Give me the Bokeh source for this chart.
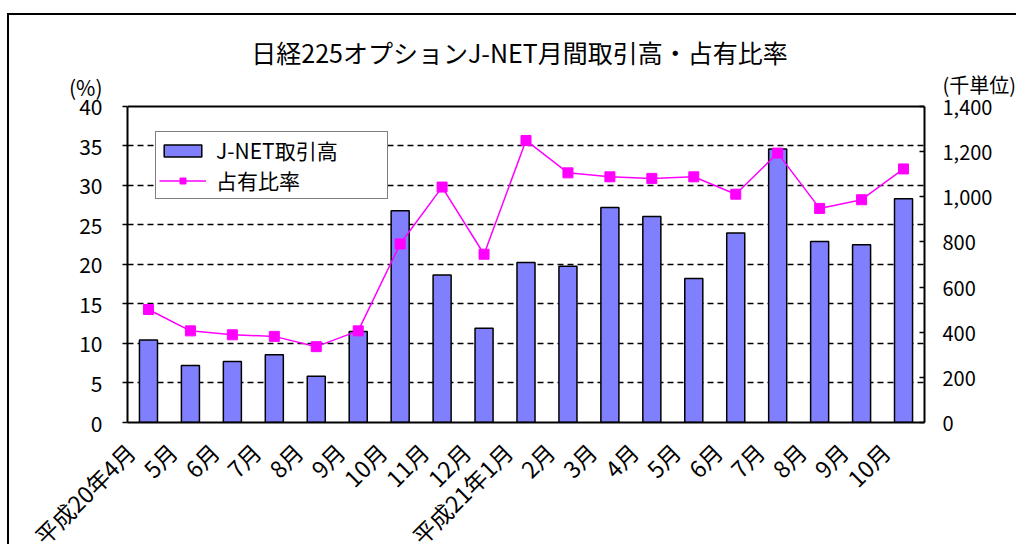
import math
from bokeh.plotting import figure
from bokeh.models import (Range1d, LinearAxis, FixedTicker, NumeralTickFormatter,
                          Legend, LegendItem, Label, ColumnDataSource, Span)
from bokeh.embed import file_html
from bokeh.resources import INLINE

months = ["平成20年4月", "5月", "6月", "7月", "8月", "9月", "10月", "11月", "12月",
          "平成21年1月", "2月", "3月", "4月", "5月", "6月", "7月", "8月", "9月", "10月"]
volume = [365, 252, 270, 300, 205, 403, 938, 654, 418, 709, 692, 952, 913, 638, 840, 1212, 802, 787, 991]
share = [14.3, 11.6, 11.1, 10.9, 9.6, 11.6, 22.6, 29.8, 21.3, 35.7, 31.6, 31.1, 30.9, 31.1, 28.9, 34.1, 27.1, 28.2, 32.1]
left_ticks = [0, 5, 10, 15, 20, 25, 30, 35, 40]
right_ticks = [0, 200, 400, 600, 800, 1000, 1200, 1400]
title_text = "日経225オプションJ-NET月間取引高・占有比率"
left_unit = "(%)"
right_unit = "(千単位)"

FONT = "Noto Sans CJK JP"
Y_TOP = 49.62          # frame extends above the plot area to hold the title
R_SCALE = 35.0         # right axis units per left axis unit
L_UNIT_POS = 42.53     # where the unit captions sit
R_UNIT_POS = 1497
LABEL_SHIFT = 0.43     # rotated month labels end left of the bar centre

xs = list(range(len(months)))
src = ColumnDataSource(dict(x=xs, vol=volume, share=share))

p = figure(frame_width=797, frame_height=392, x_range=Range1d(-0.5, len(months) - 0.5),
           y_range=Range1d(0, Y_TOP), output_backend="svg", toolbar_location=None,
           min_border_left=118, min_border_right=88, min_border_top=15, min_border_bottom=160)
p.styles = {"border-top": "2px solid #000", "border-left": "2px solid #000",
            "margin-left": "7px", "margin-top": "13px",
            "height": "531px", "overflow": "hidden"}
p.extra_y_ranges = {"vol": Range1d(0, Y_TOP * R_SCALE)}

p.outline_line_color = None
p.xgrid.visible = False
p.ygrid.grid_line_color = "black"
p.ygrid.grid_line_dash = "6 4"
p.ygrid.grid_line_width = 1.5
p.ygrid.ticker = FixedTicker(ticks=left_ticks[:-1])
p.add_layout(Span(location=left_ticks[-1], dimension="width", line_color="black", line_width=2))

bars = p.vbar(x="x", top="vol", width=0.43, source=src, y_range_name="vol",
              fill_color="#8080FF", line_color="black", line_width=1.5)
ln = p.line(x="x", y="share", source=src, line_color="#FF00FF", line_width=1.5)
sc = p.scatter(x="x", y="share", source=src, marker="square", size=10,
               fill_color="#FF00FF", line_color="#FF00FF")

# left axis: inner (spine + ticks) and outer (labels)
ya = p.yaxis[0]
ya.ticker = FixedTicker(ticks=left_ticks)
ya.bounds = (0, left_ticks[-1])
ya.axis_line_width = 2
ya.major_tick_in = 0
ya.major_tick_out = 5
ya.major_tick_line_width = 1.5
ya.minor_tick_line_color = None
ya.major_label_overrides = {t: "" for t in left_ticks}
ya.major_label_standoff = 0

yl = LinearAxis(ticker=FixedTicker(ticks=left_ticks + [L_UNIT_POS]),
                major_label_overrides={L_UNIT_POS: left_unit})
yl.axis_line_color = None
yl.major_tick_line_color = None
yl.major_tick_in = 0
yl.major_tick_out = 0
yl.minor_tick_line_color = None
yl.major_label_standoff = 20
yl.major_label_text_font = FONT
yl.major_label_text_font_size = "21px"
yl.major_label_text_color = "black"
p.add_layout(yl, "left")

# right axis: inner (spine + ticks) and outer (labels)
ri = LinearAxis(y_range_name="vol", ticker=FixedTicker(ticks=right_ticks),
                bounds=(0, right_ticks[-1]))
ri.axis_line_width = 2
ri.major_tick_in = 5
ri.major_tick_out = 0
ri.major_tick_line_width = 1.5
ri.minor_tick_line_color = None
ri.major_label_overrides = {t: "" for t in right_ticks}
ri.major_label_standoff = 0
p.add_layout(ri, "right")

ro = LinearAxis(y_range_name="vol", ticker=FixedTicker(ticks=right_ticks + [R_UNIT_POS]),
                formatter=NumeralTickFormatter(format="0,0"),
                major_label_overrides={R_UNIT_POS: right_unit})
ro.axis_line_color = None
ro.major_tick_line_color = None
ro.major_tick_in = 0
ro.major_tick_out = 0
ro.minor_tick_line_color = None
ro.major_label_standoff = 18
ro.major_label_text_font = FONT
ro.major_label_text_font_size = "20px"
ro.major_label_text_color = "black"
p.add_layout(ro, "right")

# x axis
label_ticks = [round(i - LABEL_SHIFT, 2) for i in xs]
xa = p.xaxis[0]
xa.ticker = FixedTicker(ticks=label_ticks)
xa.major_label_overrides = {t: m for t, m in zip(label_ticks, months)}
xa.major_label_orientation = math.pi / 4
xa.axis_line_width = 2
xa.major_tick_line_color = None
xa.minor_tick_line_color = None
xa.major_label_standoff = 19
xa.major_label_text_font = FONT
xa.major_label_text_font_size = "23px"
xa.major_label_text_color = "black"

legend = Legend(items=[LegendItem(label="J-NET取引高", renderers=[bars]),
                       LegendItem(label="占有比率", renderers=[ln, sc])],
                location=(28, 223))
legend.border_line_color = "black"
legend.border_line_width = 1.5
legend.background_fill_alpha = 1
legend.label_text_font = FONT
legend.label_text_font_size = "21px"
legend.label_text_color = "black"
legend.glyph_width = 47
legend.glyph_height = 15
legend.label_height = 24
legend.label_width = 168
legend.label_standoff = 10
legend.spacing = 0
legend.padding = 3
legend.margin = 0
p.add_layout(legend)

p.add_layout(Label(x=(len(months) - 1) / 2 - 0.155, y=46.96, text=title_text,
                   text_align="center", text_baseline="middle", text_color="black",
                   text_font=FONT, text_font_size="25px"))

open("out.html", "w").write(file_html(p, INLINE))
